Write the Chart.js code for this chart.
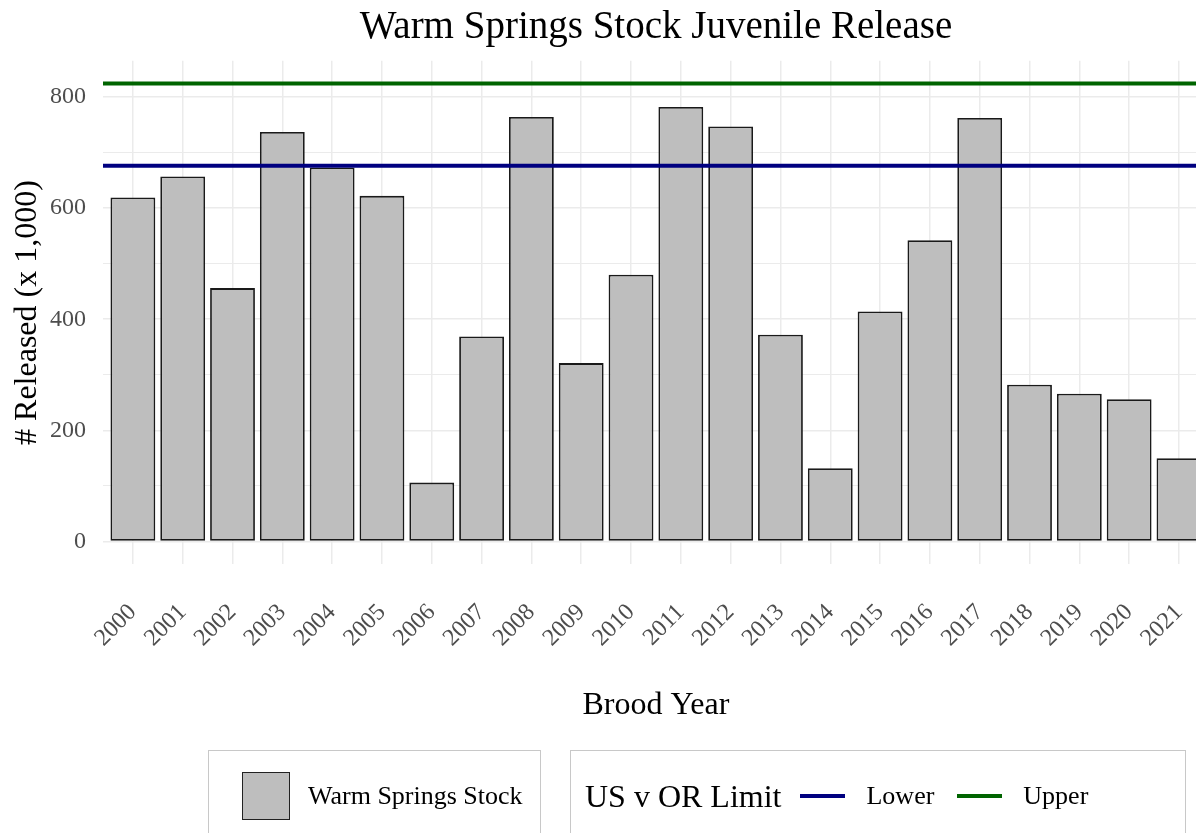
<!DOCTYPE html>
<html>
<head>
<meta charset="utf-8">
<title>Warm Springs Stock Juvenile Release</title>
<script src="https://cdn.jsdelivr.net/npm/chart.js@4.4.0/dist/chart.umd.min.js"></script>
<style>
    html, body { margin: 0; padding: 0; background: #fff; overflow: hidden; }
    #wrap { position: relative; width: 1196px; height: 833px; overflow: hidden; }
    #chart { position: absolute; left: 0; top: 0; }
    .lg-box {
        position: absolute; top: 750px; height: 92px; box-sizing: border-box;
        border: 1px solid #c8c8c8; display: flex; align-items: center;
        font-family: "Liberation Serif", serif; color: #000; white-space: nowrap;
    }
    #lg-bars { left: 208px; width: 333px; padding-left: 33px; }
    #lg-lines { left: 570px; width: 616px; padding-left: 14px; }
    .lg-title { font-size: 32px; margin-right: 19px; }
    .lg-text { font-size: 26px; }
    .sw-bar { width: 46px; height: 46px; border: 1.5px solid #222; margin-right: 18px; }
    .sw-line { width: 45px; height: 4px; margin-right: 21px; }
</style>
</head>
<body>
<div id="wrap">
    <canvas id="chart" width="1234" height="833"></canvas>
    <div class="lg-box" id="lg-bars"></div>
    <div class="lg-box" id="lg-lines"><span class="lg-title">US v OR Limit</span></div>
</div>
<script>
// data
const years = [2000, 2001, 2002, 2003, 2004, 2005, 2006, 2007, 2008, 2009, 2010,
               2011, 2012, 2013, 2014, 2015, 2016, 2017, 2018, 2019, 2020, 2021];
const released = [619, 657, 456, 737, 673, 622, 106, 369, 764, 321, 480,
                  782, 747, 372, 132, 414, 542, 762, 282, 266, 256, 150];
const lowerLimit = 676;
const upperLimit = 824;
const yTicks = [0, 200, 400, 600, 800];
const yMinor = [100, 300, 500, 700];

// axis limits (ggplot style expansion)
const xMin = 1999.4, xMax = 2021.6;
const yMin = -41, yMax = 865;

const serif = "'Liberation Serif', 'Times New Roman', serif";
Chart.defaults.font.family = serif;
Chart.defaults.color = "#4D4D4D";

const ctx = document.getElementById("chart").getContext("2d");
const myChart = new Chart(ctx, {
    type: "bar",
    data: {
        datasets: [{
            type: "line",
            label: "Lower",
            order: 0,
            data: [{x: xMin, y: lowerLimit}, {x: xMax, y: lowerLimit}],
            borderColor: "#000080",
            borderWidth: 4,
            pointRadius: 0
        }, {
            type: "line",
            label: "Upper",
            order: 0,
            data: [{x: xMin, y: upperLimit}, {x: xMax, y: upperLimit}],
            borderColor: "#006400",
            borderWidth: 4,
            pointRadius: 0
        }, {
            label: "Warm Springs Stock",
            order: 1,
            data: years.map((yr, i) => ({x: yr, y: released[i]})),
            backgroundColor: "#BEBEBE",
            borderColor: "#1a1a1a",
            borderWidth: 1.8,
            borderSkipped: false,
            barPercentage: 0.9,
            categoryPercentage: 1
        }]
    },
    options: {
        responsive: false,
        animation: false,
        layout: { padding: { left: 0, right: 0, top: 0, bottom: 108 } },
        plugins: {
            legend: { display: false },
            tooltip: { enabled: false }
        },
        scales: {
            x: {
                type: "linear",
                min: xMin,
                max: xMax,
                offset: false,
                afterBuildTicks: s => { s.ticks = years.map(v => ({value: v})); },
                ticks: {
                    callback: v => String(v),
                    autoSkip: false,
                    minRotation: 45,
                    maxRotation: 45,
                    padding: 34,
                    color: "#4D4D4D",
                    font: { size: 24 }
                },
                grid: { color: "#EBEBEB", lineWidth: 1.5, drawTicks: false, offset: false },
                border: { display: false },
                title: {
                    display: true,
                    text: "Brood Year",
                    color: "#000",
                    font: { size: 32 },
                    padding: { top: 0, bottom: 0 }
                }
            },
            xTop: {
                type: "linear",
                position: "top",
                min: xMin,
                max: xMax,
                offset: false,
                ticks: { display: false },
                grid: { display: false },
                border: { display: false },
                title: {
                    display: true,
                    text: "Warm Springs Stock Juvenile Release",
                    color: "#000",
                    font: { size: 39 },
                    padding: { top: 4, bottom: 2 }
                }
            },
            y: {
                min: yMin,
                max: yMax,
                afterFit: s => { s.width = 103; },
                afterBuildTicks: s => {
                    s.ticks = yTicks.concat(yMinor).sort((a, b) => a - b).map(v => ({value: v}));
                },
                ticks: {
                    callback: v => (yTicks.includes(v) ? String(v) : ""),
                    padding: 17,
                    color: "#4D4D4D",
                    font: { size: 24 }
                },
                grid: {
                    color: "#EBEBEB",
                    lineWidth: c => (c.tick && yTicks.includes(c.tick.value) ? 1.5 : 1),
                    drawTicks: false
                },
                border: { display: false },
                title: {
                    display: true,
                    text: "# Released (x 1,000)",
                    color: "#000",
                    font: { size: 32 },
                    padding: { top: 8, bottom: 4 }
                }
            }
        }
    }
});

// ggplot-style legend boxes built from the datasets
const sets = myChart.data.datasets;
const barBox = document.getElementById("lg-bars");
const lineBox = document.getElementById("lg-lines");
sets.forEach(ds => {
    if (ds.type === "line") {
        const sw = document.createElement("span");
        sw.className = "sw-line";
        sw.style.background = ds.borderColor;
        const tx = document.createElement("span");
        tx.className = "lg-text";
        tx.style.marginRight = "23px";
        tx.textContent = ds.label;
        lineBox.appendChild(sw);
        lineBox.appendChild(tx);
    } else {
        const sw = document.createElement("span");
        sw.className = "sw-bar";
        sw.style.background = ds.backgroundColor;
        const tx = document.createElement("span");
        tx.className = "lg-text";
        tx.textContent = ds.label;
        barBox.appendChild(sw);
        barBox.appendChild(tx);
    }
});
</script>
</body>
</html>
